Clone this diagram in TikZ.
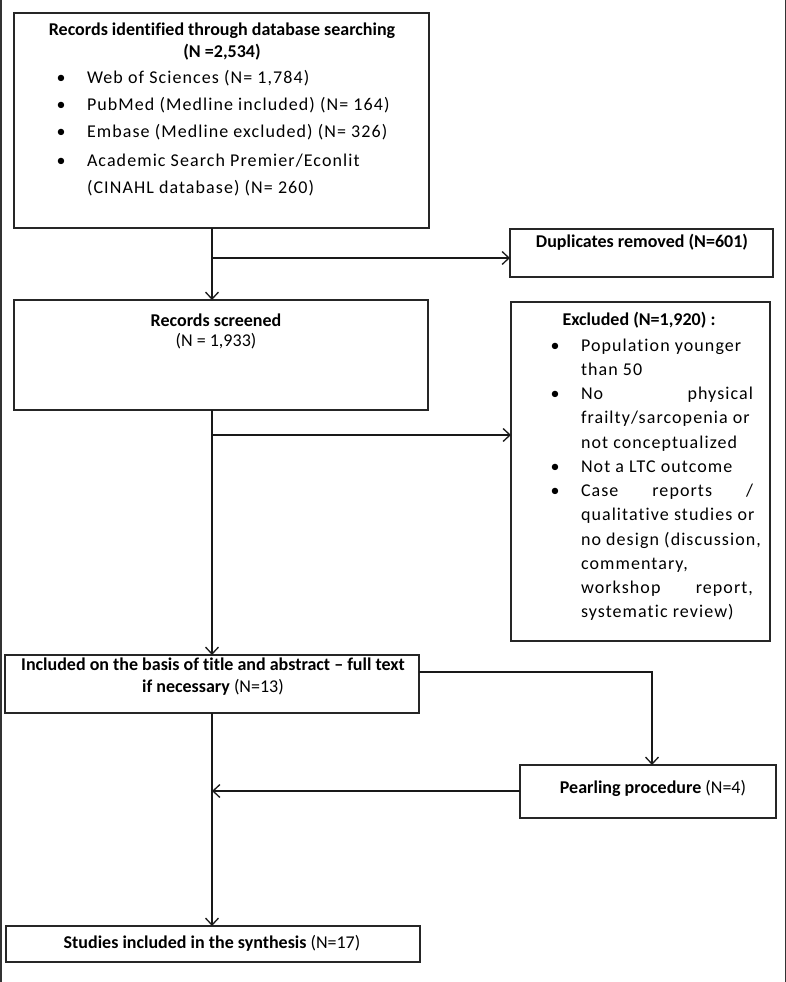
\documentclass[tikz,border=0pt]{standalone}
\usepackage{fontspec}
\setmainfont{Carlito}[Ligatures=NoCommon]
\newfontfamily\spaced[LetterSpace=6,Ligatures=NoCommon]{Carlito}
\usetikzlibrary{arrows.meta}
\begin{document}
\begin{tikzpicture}[x=1pt,y=-1pt,
  box/.style={draw=black!85,line width=1.4pt,inner sep=0pt,outer sep=0pt,anchor=north west},
  txt/.style={inner sep=0pt,outer sep=0pt,anchor=base,font=\fontsize{18}{22}\selectfont},
  ltxt/.style={txt,anchor=base west,font=\fontsize{18}{22}\selectfont\spaced},
  bul/.style={txt,anchor=base,font=\fontsize{18}{22}\selectfont},
  conn/.style={draw=black!90,line width=1.4pt},
  arr/.style={conn,-{Straight Barb[length=7pt,width=13pt,line width=1.3pt]}},
  frame/.style={draw=black!80,line width=1.5pt}]
\useasboundingbox (0,0) rectangle (786,982);
\draw[frame] (0.75,0) -- (0.75,982);
\draw[frame] (785.25,0) -- (785.25,982);
% boxes
\node[box,minimum width=415pt,minimum height=215pt] (b1) at (14,13) {};
\node[box,minimum width=263pt,minimum height=48pt] (dup) at (510,229) {};
\node[box,minimum width=414pt,minimum height=110pt] (b2) at (14,300) {};
\node[box,minimum width=259pt,minimum height=339pt] (ex) at (511,302) {};
\node[box,minimum width=414pt,minimum height=58pt] (b3) at (5,655) {};
\node[box,minimum width=256pt,minimum height=53pt] (pe) at (520,765) {};
\node[box,minimum width=414pt,minimum height=36pt] (b4) at (6,926) {};
% box 1 text
\node[txt] (b1t1) at (222,36) {\bfseries Records identified through database searching};
\node[txt] (b1t2) at (222,57) {\bfseries (N =2,534)};
\node[bul] (b1u1) at (61,83) {•};
\node[ltxt] (b1l1) at (87,83) {Web of Sciences (N= 1,784)};
\node[bul] (b1u2) at (61,110) {•};
\node[ltxt] (b1l2) at (87,110) {PubMed (Medline included) (N= 164)};
\node[bul] (b1u3) at (61,137) {•};
\node[ltxt] (b1l3) at (87,137) {Embase (Medline excluded) (N= 326)};
\node[bul] (b1u4) at (61,166) {•};
\node[ltxt] (b1l4) at (87,166) {Academic Search Premier/Econlit};
\node[ltxt] (b1l5) at (87,193) {(CINAHL database) (N= 260)};
% duplicates
\node[txt] (dupt) at (642,247) {\bfseries Duplicates removed (N=601)};
% records screened
\node[txt] (b2t1) at (216,326) {\bfseries Records screened};
\node[txt] (b2t2) at (216,346) {(N = 1,933)};
% excluded
\node[txt] (ext) at (639,325) {\bfseries Excluded (N=1,920) :};
\node[bul] (exu1) at (555,351) {•};
\node[ltxt] (exl1) at (581,351) {Population younger};
\node[ltxt] (exl2) at (581,375.25) {than 50};
\node[bul] (exu2) at (555,399.5) {•};
\node[ltxt] (exl3) at (581,399.5) {\hbox to 172pt{No\hfill physical}};
\node[ltxt] (exl4) at (581,423.75) {frailty/sarcopenia or};
\node[ltxt] (exl5) at (581,448) {not conceptualized};
\node[bul] (exu3) at (555,472.25) {•};
\node[ltxt] (exl6) at (581,472.25) {Not a LTC outcome};
\node[bul] (exu4) at (555,496.5) {•};
\node[ltxt] (exl7) at (581,496.5) {\hbox to 172pt{Case\hfill reports\hfill /}};
\node[ltxt] (exl8) at (581,520.75) {qualitative studies or};
\node[ltxt] (exl9) at (581,545) {no design (discussion,};
\node[ltxt] (exl10) at (581,569.25) {commentary,};
\node[ltxt] (exl11) at (581,593.5) {\hbox to 172pt{workshop\hfill report,}};
\node[ltxt] (exl12) at (581,617.75) {systematic review)};
% box 3
\node[txt] (b3t1) at (213,670) {\bfseries Included on the basis of title and abstract – full text};
\node[txt] (b3t2) at (213,692) {\textbf{if necessary} (N=13)};
% pearling
\node[txt] (pet) at (653,793) {\textbf{Pearling procedure} (N=4)};
% box 4
\node[txt] (b4t) at (212,948) {\textbf{Studies included in the synthesis} (N=17)};
% connectors
\coordinate (j1) at (212,258);
\coordinate (j2) at (212,435);
\coordinate (j3) at (212,791);
\coordinate (c1) at (652,672);
\draw[arr] (b1.south -| j1) -- (b2.north -| j1);
\draw[arr] (j1) -- (j1 -| dup.west);
\draw[arr] (b2.south -| j2) -- (b3.north -| j2);
\draw[arr] (j2) -- (j2 -| ex.west);
\draw[arr] (c1 -| b3.east) -- (c1) -- (c1 |- pe.north);
\draw[arr] (j3 -| pe.west) -- (j3);
\draw[arr] (b3.south -| j3) -- (b4.north -| j3);
\end{tikzpicture}
\end{document}
